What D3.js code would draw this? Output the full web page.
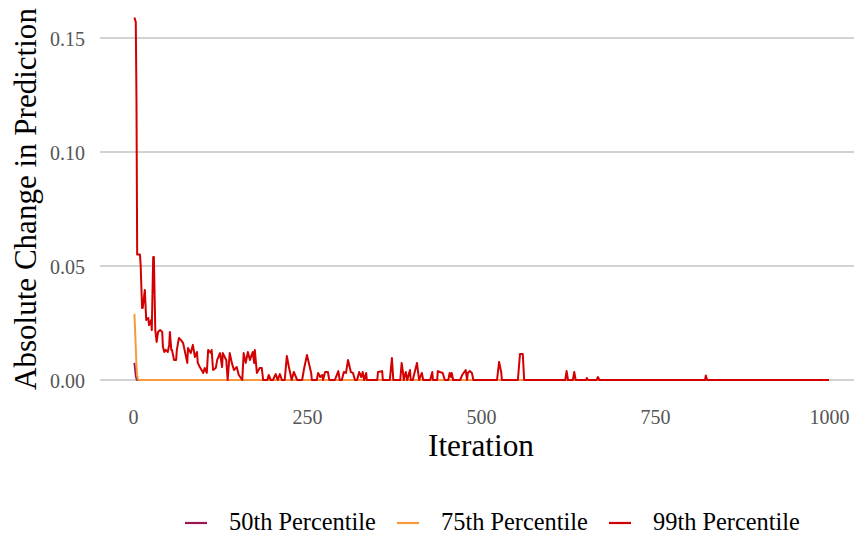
<!DOCTYPE html>
<html><head><meta charset="utf-8">
<script src="https://cdn.jsdelivr.net/npm/d3@7"></script>
<style>body{margin:0;background:#fff}svg{display:block}text{font-family:"Liberation Serif","DejaVu Serif",serif}</style>
</head><body><svg id="c" width="854" height="537"></svg>
<script>
const seriesNames = ["50th Percentile", "75th Percentile", "99th Percentile"];
const seriesColors = ["#9b1651", "#f79a3e", "#d20000"];

const iter50 = [2, 3, 4, 5, 6, 1000];
const val50  = [0.0075, 0.005, 0.002, 0.0005, 0, 0];

const iter75 = [2, 3, 4, 5, 6, 7, 8, 1000];
const val75  = [0.029, 0.022, 0.014, 0.006, 0.002, 0.0005, 0, 0];

const iter99 = [2,4,5,6,10,11,13,14,17,19,22,23,26,27,29,30,32,34,36,39,42,43,45,47,50,52,53,55,56,59,62,63,66,69,
 72,78,79,83,86,89,92,93,96,101,103,106,108,112,113,115,119,121,125,128,129,134,136,139,142,145,149,152,157,159,162,165,168,172,174,175,178,182,185,187,193,195,198,201,205,208,211,214,218,221,224,228,231,236,243,246,250,251,256,257,264,266,269,272,273,276,280,282,290,295,297,
 300,303,306,309,313,316,319,322,325,328,330,332,335,336,351,352,358,359,369,372,374,384,386,388,389,392,394,398,399,402,408,411,415,417,427,430,431,437,
 438,441,445,448,453,455,457,458,460,470,473,476,478,480,481,484,487,489,523,526,529,530,553,556,560,562,
 621,623,625,632,634,636,651,652,654,666,668,670,822,823,825,1000];
const val99 = [0.159,0.157,0.123,0.055,0.055,0.0504,0.0316,0.0316,0.0395,0.0263,0.0272,0.0241,0.0263,0.0219,0.0539,0.0539,0.0219,0.0167,0.0211,0.0219,0.0211,0.0145,0.0123,0.0132,0.0123,0.0154,0.0211,0.0132,0.0132,0.0088,0.0088,0.0132,0.0184,0.0175,
 0.0162,0.0075,0.014,0.0118,0.0154,0.0101,0.0123,0.0075,0.0057,0.0031,0.0053,0.0031,0.0132,0.0118,0.0132,0.0044,0.0053,0.0088,0.0118,0.0057,0.0118,0.0088,0,0.0118,0.0075,0.0044,0.0057,0.0022,0,0.0118,0.0075,0.0123,0.0088,0.0123,0.0075,0.0132,0.0031,0.0053,0.0053,0,0,0.0022,0,0,0.0026,0,0.0026,0,0,0.0105,0.0057,0,0.0035,0,0,0.0053,0.011,0.0096,0.0031,0,0,0.0031,0.0013,0.0022,0,0.0035,0.0035,0,0,0.0039,0,
 0,0.0035,0.0031,0.0088,0.0035,0.0031,0,0,0.0035,0.0013,0.0035,0,0.0031,0,0,0.0035,0.0039,0,0,0.0096,0,0,0.0075,0.0031,0,0.0035,0,0.0044,0,0,0.0075,0,0.0031,0,0,0.0035,0,0,
 0.0039,0.0035,0.0031,0,0,0.0031,0.0013,0.0031,0,0,0.0022,0.0035,0.0044,0,0.0031,0.0039,0.0031,0,0,0.0079,0.0035,0,0,0.0114,0.0114,0,
 0,0.0039,0,0,0.0035,0,0,0.0009,0,0,0.0013,0,0,0.002,0,0];

const xTicks = [0, 250, 500, 750, 1000];
const yTicks = [0.00, 0.05, 0.10, 0.15];

const svg = d3.select("#c");
const x = d3.scaleLinear().domain([0, 1000]).range([133, 829]);
const y = d3.scaleLinear().domain([0, 0.15]).range([380, 38]);

function fit(sel, target, base) {
  sel.style("font-size", base + "px");
  const w = sel.node().getComputedTextLength();
  sel.style("font-size", (base * target / w) + "px");
}

svg.append("g").selectAll("line").data(yTicks).join("line")
  .attr("x1", 100).attr("x2", 854).attr("y1", d => y(d)).attr("y2", d => y(d))
  .attr("stroke", "#d2d2d2").attr("stroke-width", 2);

const yAxis = svg.append("g").attr("transform", "translate(92,0)")
  .call(d3.axisLeft(y).tickValues(yTicks).tickFormat(d3.format(".2f")).tickSize(0).tickPadding(7));
yAxis.select(".domain").remove();
yAxis.selectAll("text").attr("fill", "#555").style("font-family", '"Liberation Serif",serif').style("font-size", "20px").attr("dy", "0.35em");

const xAxis = svg.append("g").attr("transform", "translate(0,398)")
  .call(d3.axisBottom(x).tickValues(xTicks).tickFormat(d3.format("d")).tickSize(0).tickPadding(12));
xAxis.select(".domain").remove();
xAxis.selectAll("text").attr("fill", "#555").style("font-family", '"Liberation Serif",serif').style("font-size", "20px");

const xt = svg.append("text").attr("x", 481).attr("y", 456).attr("text-anchor", "middle").attr("fill", "#000").text("Iteration");
fit(xt, 106, 26);
const yt = svg.append("text").attr("transform", "translate(36,199) rotate(-90)").attr("text-anchor", "middle").attr("fill", "#000").text("Absolute Change in Prediction");
fit(yt, 382, 26);

const line = d3.line().x(d => x(d[0])).y(d => y(d[1]));
const series = [
  iter50.map((d, i) => [d, val50[i]]),
  iter75.map((d, i) => [d, val75[i]]),
  iter99.map((d, i) => [d, val99[i]])
];
svg.append("g").selectAll("path").data(series).join("path")
  .attr("d", line).attr("fill", "none")
  .attr("stroke", (d, i) => seriesColors[i]).attr("stroke-width", 2)
  .attr("stroke-linejoin", "round");

const lg = svg.append("g").selectAll("g").data(seriesNames).join("g")
  .attr("transform", (d, i) => `translate(${[196, 408, 620][i]},523)`);
lg.append("line").attr("x1", -11).attr("x2", 11).attr("stroke", (d, i) => seriesColors[i]).attr("stroke-width", 2.2);
lg.append("text").attr("x", 33).attr("y", 7).attr("fill", "#000").text(d => d)
  .each(function() { fit(d3.select(this), 147, 20); });
</script></body></html>
